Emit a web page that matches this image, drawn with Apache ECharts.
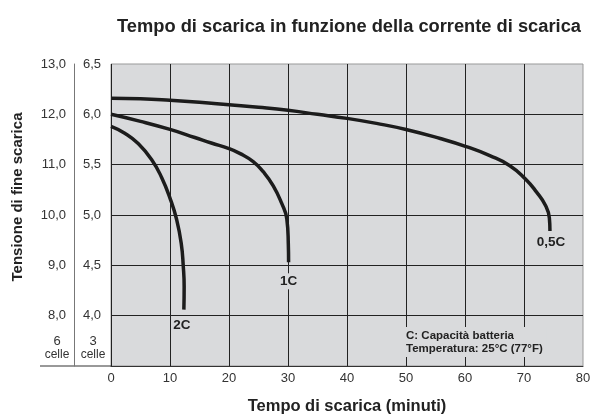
<!DOCTYPE html>
<html>
<head>
<meta charset="utf-8">
<script src="https://cdn.jsdelivr.net/npm/echarts@6/dist/echarts.min.js"></script>
<style>
  html, body { margin: 0; padding: 0; background: #fff; }
  #chart { width: 592px; height: 416px; }
</style>
</head>
<body>
<div id="chart"></div>
<script>
// discharge curves, time in minutes / volts per 3 cells
const t05 = [0, 5, 10, 15, 20, 25, 30, 35, 40, 45, 50, 55.8, 60.2, 64.2, 67.6, 70.2, 72.1, 73.6, 74.3, 74.4];
const v05 = [6.16, 6.155, 6.14, 6.12, 6.095, 6.07, 6.04, 6.0, 5.96, 5.91, 5.85, 5.76, 5.68, 5.59, 5.49, 5.36, 5.23, 5.10, 4.97, 4.84];
const t1 = [0, 5, 10, 14.2, 17, 20, 21.9, 24.1, 25.8, 27.5, 28.9, 29.8, 30.05, 30.1];
const v1 = [6.0, 5.93, 5.85, 5.77, 5.715, 5.66, 5.61, 5.53, 5.43, 5.29, 5.12, 4.96, 4.72, 4.53];
const t2 = [0, 2.4, 4.6, 6.9, 8.6, 10.1, 11.1, 11.9, 12.25, 12.4, 12.35];
const v2 = [5.88, 5.81, 5.71, 5.55, 5.37, 5.15, 4.96, 4.72, 4.49, 4.29, 4.06];
const curveNames = ['0,5C', '1C', '2C'];

const xTicks = [0, 10, 20, 30, 40, 50, 60, 70, 80];
const cells3 = [3.5, 6.5, 0.5];   // min, max, step
const cells6 = [7, 13, 1];

const bg = '#d9dadc';
const ink = '#1c1c1c';
const sans = '"Liberation Sans", Arial, sans-serif';

function zip(xs, ys) { return xs.map((x, i) => [x, ys[i]]); }
function comma(v) { return v.toFixed(1).replace('.', ','); }

function curve(name, xs, ys, off) {
  const last = xs.length - 1;
  return {
    name: name,
    type: 'line',
    data: zip(xs, ys),
    smooth: 0.5,
    showSymbol: false,
    lineStyle: { color: ink, width: 3.5 },
    markPoint: {
      symbol: 'circle',
      symbolSize: 1,
      itemStyle: { color: 'rgba(0,0,0,0)' },
      label: {
        show: true,
        position: 'inside',
        formatter: name,
        offset: off,
        color: '#222',
        fontFamily: sans,
        fontWeight: 'bold',
        fontSize: 13.5,
        backgroundColor: bg,
        padding: [1, 2]
      },
      data: [{ coord: [xs[last], ys[last]] }]
    }
  };
}

const cellRich = {
  n: { fontFamily: sans, fontSize: 13, lineHeight: 14, align: 'center' },
  c: { fontFamily: sans, fontSize: 12, lineHeight: 14, align: 'center' }
};

const chart = echarts.init(document.getElementById('chart'));
chart.setOption({
  animation: false,
  title: {
    text: 'Tempo di scarica in funzione della corrente di scarica',
    left: 344,
    top: 13,
    textAlign: 'center',
    textStyle: { fontFamily: sans, fontWeight: 'bold', fontSize: 18.3, color: '#222' }
  },
  grid: {
    left: 111, right: 9, top: 64, bottom: 50,
    outerBoundsMode: 'none',
    containLabel: false,
    show: true, backgroundColor: bg, borderColor: '#999', borderWidth: 1
  },
  xAxis: {
    type: 'value',
    min: xTicks[0], max: xTicks[xTicks.length - 1], interval: 10,
    name: 'Tempo di scarica (minuti)',
    nameLocation: 'middle',
    nameGap: 32,
    nameTextStyle: { fontFamily: sans, fontWeight: 'bold', fontSize: 16.5, color: '#222' },
    axisLine: { lineStyle: { color: '#333', width: 1 } },
    axisTick: { show: false },
    axisLabel: { margin: 6, fontFamily: sans, fontSize: 13, color: '#333' },
    splitLine: { show: true, showMaxLine: false, lineStyle: { color: '#222', width: 1 } }
  },
  yAxis: [
    {
      type: 'value',
      min: cells3[0], max: cells3[1], interval: cells3[2],
      position: 'left',
      axisLine: { show: false },
      axisTick: { show: false },
      axisLabel: {
        margin: 28, align: 'left',
        fontFamily: sans, fontSize: 13, color: '#333',
        formatter: v => v === cells3[0] ? '' : comma(v)
      },
      splitLine: { show: true, showMaxLine: false, lineStyle: { color: '#222', width: 1 } }
    },
    {
      type: 'value',
      min: cells6[0], max: cells6[1], interval: cells6[2],
      position: 'left',
      offset: 37,
      name: 'Tensione di fine scarica',
      nameLocation: 'middle',
      nameGap: 49,
      nameTextStyle: {
        fontFamily: sans, fontWeight: 'bold', fontSize: 15, color: '#222',
        padding: [0, 0, 0, 36]
      },
      axisLine: { show: true, lineStyle: { color: '#777', width: 1 } },
      axisTick: { show: false },
      splitLine: { show: false },
      axisLabel: {
        margin: 8,
        fontFamily: sans, fontSize: 13, color: '#333',
        formatter: v => v === cells6[0] ? '' : comma(v)
      }
    }
  ],
  graphic: [
    {
      type: 'line',
      shape: { x1: 40, y1: 366, x2: 111, y2: 366 },
      style: { stroke: '#333', lineWidth: 1 }
    },
    {
      type: 'text', x: 57, y: 334,
      style: { text: '{n|6}\n{c|celle}', align: 'center', verticalAlign: 'top', fill: '#333', rich: cellRich }
    },
    {
      type: 'text', x: 93, y: 334,
      style: { text: '{n|3}\n{c|celle}', align: 'center', verticalAlign: 'top', fill: '#333', rich: cellRich }
    },
    {
      type: 'text', x: 402, y: 327, z: 10,
      style: {
        text: 'C: Capacità batteria\nTemperatura: 25°C (77°F)',
        font: 'bold 11.5px "Liberation Sans", Arial, sans-serif',
        lineHeight: 13,
        fill: '#222',
        backgroundColor: bg,
        padding: [2, 4]
      }
    }
  ],
  series: [
    curve(curveNames[0], t05, v05, [1, 11]),
    curve(curveNames[1], t1, v1, [0, 19]),
    curve(curveNames[2], t2, v2, [-2, 16])
  ]
});
</script>
</body>
</html>
